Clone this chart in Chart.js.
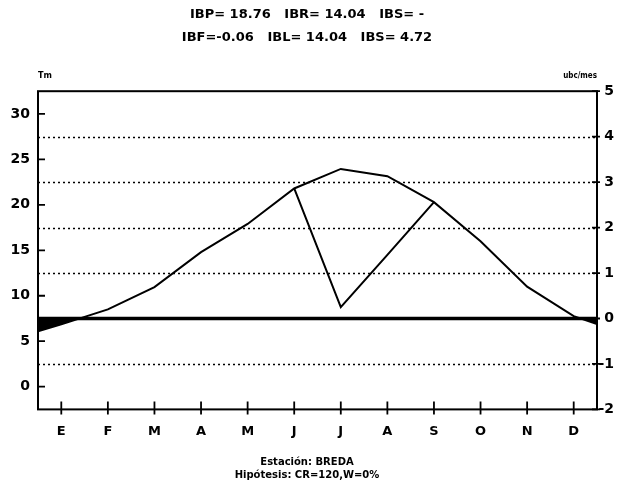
<!DOCTYPE html>
<html>
<head>
<meta charset="utf-8">
<script src="https://cdn.jsdelivr.net/npm/chart.js@4.4.1/dist/chart.umd.min.js"></script>
<style>
    html, body { margin: 0; padding: 0; background: #fff; }
    #wrap { width: 619px; height: 492px; }
</style>
</head>
<body>
<div id="wrap"><canvas id="chart" width="619" height="492"></canvas></div>
<script>
// Month labels (Spanish initials)
const months = ['E', 'F', 'M', 'A', 'M', 'J', 'J', 'A', 'S', 'O', 'N', 'D'];
// Potential curve, ubc/mes, one value per month
const potential = [-0.13, 0.20, 0.69, 1.46, 2.08, 2.86, 3.29, 3.13, 2.56, 1.70, 0.70, 0.05];
// Potential curve at the start of January and end of December
const potentialEdges = [-0.28, -0.12];
// Real curve (only June to September differ)
const real = [null, null, null, null, null, 2.86, 0.25, 1.40, 2.56, null, null, null];
// Tick labels
const leftTicks = [0, 5, 10, 15, 20, 25, 30];
const rightTicks = [5, 4, 3, 2, 1, 0, -1, -2];
const dottedLevels = [4, 3, 2, 1, -1];

const FONT = 'DejaVu Sans';

const potentialData = [{ x: -0.5, y: potentialEdges[0] }]
    .concat(potential.map((v, i) => ({ x: i, y: v })))
    .concat([{ x: 11.5, y: potentialEdges[1] }]);
const realData = real.map((v, i) => ({ x: i, y: v })).filter(p => p.y !== null);

// grid, axes box and tick marks drawn through the scales
const framePlugin = {
    id: 'frame',
    beforeDatasetsDraw(chart) {
        const ctx = chart.ctx;
        const a = chart.chartArea;
        const y = chart.scales.y;
        ctx.save();
        ctx.strokeStyle = '#000';
        ctx.lineWidth = 1.6;
        ctx.setLineDash([2, 3]);
        dottedLevels.forEach(v => {
            const py = Math.round(y.getPixelForValue(v)) + 0.5;
            ctx.beginPath();
            ctx.moveTo(a.left, py);
            ctx.lineTo(a.right, py);
            ctx.stroke();
        });
        ctx.restore();
    },
    afterDatasetsDraw(chart) {
        const ctx = chart.ctx;
        const a = chart.chartArea;
        const x = chart.scales.x;
        const y = chart.scales.y;
        const yl = chart.scales.yTm;
        ctx.save();
        ctx.strokeStyle = '#000';
        ctx.setLineDash([]);
        // zero line
        ctx.lineWidth = 3.5;
        const pz = y.getPixelForValue(0);
        ctx.beginPath();
        ctx.moveTo(a.left, pz);
        ctx.lineTo(a.right, pz);
        ctx.stroke();
        // box
        ctx.lineWidth = 2;
        ctx.strokeRect(a.left, a.top, a.right - a.left, a.bottom - a.top);
        // tick marks
        ctx.lineWidth = 1.8;
        ctx.beginPath();
        months.forEach((m, i) => {
            const px = x.getPixelForValue(i);
            ctx.moveTo(px, a.bottom - 8);
            ctx.lineTo(px, a.bottom + 5);
        });
        leftTicks.forEach(v => {
            const py = yl.getPixelForValue(v);
            ctx.moveTo(a.left, py);
            ctx.lineTo(a.left + 7, py);
        });
        rightTicks.forEach(v => {
            const py = y.getPixelForValue(v);
            ctx.moveTo(a.right - 5, py);
            ctx.lineTo(a.right + 3, py);
        });
        ctx.stroke();
        // unit labels above the axes
        ctx.fillStyle = '#000';
        ctx.textBaseline = 'bottom';
        ctx.font = 'bold 9px "DejaVu Sans Condensed", "' + FONT + '"';
        ctx.textAlign = 'left';
        ctx.fillText('Tm', a.left, a.top - 11);
        ctx.font = 'bold 8px "DejaVu Sans Condensed", "' + FONT + '"';
        ctx.textAlign = 'right';
        ctx.fillText('ubc/mes', a.right, a.top - 11);
        ctx.restore();
    }
};

new Chart(document.getElementById('chart'), {
    type: 'line',
    data: {
        datasets: [
            {
                label: 'potencial',
                data: potentialData,
                borderColor: '#000',
                borderWidth: 2,
                pointRadius: 0,
                tension: 0,
                fill: { target: { value: 0 }, above: 'rgba(0,0,0,0)', below: '#000' },
                yAxisID: 'y'
            },
            {
                label: 'real',
                data: realData,
                borderColor: '#000',
                borderWidth: 2,
                pointRadius: 0,
                tension: 0,
                fill: false,
                yAxisID: 'y'
            }
        ]
    },
    options: {
        responsive: false,
        animation: false,
        layout: { padding: { right: 5 } },
        plugins: {
            legend: { display: false },
            tooltip: { enabled: false },
            title: {
                display: true,
                text: ['IBP= 18.76   IBR= 14.04   IBS= -', 'IBF=-0.06   IBL= 14.04   IBS= 4.72'],
                color: '#000',
                font: { family: FONT, size: 13, weight: 'bold', lineHeight: 1.7 },
                padding: { top: 4, bottom: 43 }
            },
            subtitle: {
                display: true,
                position: 'bottom',
                text: ['Estación: BREDA', 'Hipótesis: CR=120,W=0%'],
                color: '#000',
                font: { family: FONT, size: 10, weight: 'bold', lineHeight: 1.3 },
                padding: { top: 3, bottom: 10 }
            }
        },
        scales: {
            x: {
                type: 'linear',
                position: 'bottom',
                min: -0.5,
                max: 11.5,
                afterBuildTicks: scale => { scale.ticks = months.map((m, i) => ({ value: i })); },
                ticks: {
                    callback: v => months[v],
                    color: '#000',
                    font: { family: FONT, size: 13, weight: 'bold' },
                    padding: 14,
                    maxRotation: 0,
                    autoSkip: false
                },
                grid: { display: false, drawTicks: false },
                border: { display: false }
            },
            yTm: {
                type: 'linear',
                position: 'left',
                min: -2.5,
                max: 32.5,
                afterBuildTicks: scale => { scale.ticks = leftTicks.map(v => ({ value: v })); },
                afterFit: scale => { scale.width = 38; },
                ticks: {
                    color: '#000',
                    font: { family: FONT, size: 14, weight: 'bold' },
                    padding: 8
                },
                grid: { display: false, drawTicks: false },
                border: { display: false }
            },
            y: {
                type: 'linear',
                position: 'right',
                min: -2,
                max: 5,
                afterBuildTicks: scale => { scale.ticks = rightTicks.map(v => ({ value: v })); },
                afterFit: scale => { scale.width = 17; },
                ticks: {
                    callback: v => String(v),
                    color: '#000',
                    font: { family: FONT, size: 14, weight: 'bold' },
                    crossAlign: 'far',
                    padding: 2
                },
                grid: { display: false, drawTicks: false },
                border: { display: false }
            }
        }
    },
    plugins: [framePlugin]
});
</script>
</body>
</html>
